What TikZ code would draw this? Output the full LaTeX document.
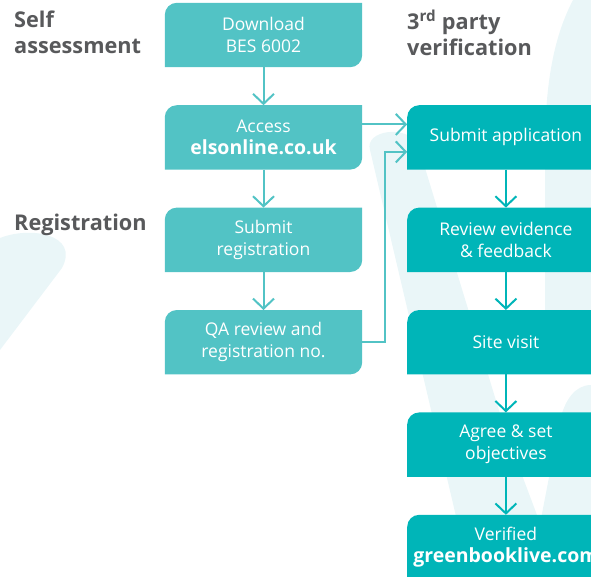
\documentclass[tikz,border=0pt]{standalone}
\usepackage{fontspec}
\setmainfont{Open Sans}
\usetikzlibrary{positioning,arrows.meta,backgrounds}

\definecolor{teallight}{HTML}{52C3C5}
\definecolor{tealdark}{HTML}{00B5B8}
\definecolor{headgray}{HTML}{58595B}
\definecolor{swoosh}{HTML}{EAF6F8}

\newcommand{\weblink}[1]{{\fontsize{19.5}{22}\selectfont\bfseries #1}}

\tikzset{
  stepbox/.style={minimum width=197pt,minimum height=64pt,inner sep=0pt,
    align=center,text=white,font=\fontsize{17.5}{22}\selectfont},
  heading/.style={anchor=north west,inner sep=0pt,align=left,text=headgray,
    font=\fontsize{21.7}{26}\selectfont\bfseries},
  flow/.style={line width=2pt,-{Straight Barb[length=10pt,width=21pt]}},
}

\begin{document}
\begin{tikzpicture}[x=1pt,y=1pt,node distance=38pt]
\useasboundingbox (0,0) rectangle (591,-576);
\clip (0,0) rectangle (591,-576);

% Headings
\node[heading] (selfh) at (14,-10.5) {Self\\assessment};
\node[heading,anchor=base west] (regh) at (14,-230) {Registration};
\node[heading] (thirdh) at (407,-10) {3\textsuperscript{rd} party\\verification};

% Self assessment and registration
\node[stepbox] (dl) at (263.5,-35) {Download\\BES 6002};
\node[stepbox,below=of dl] (acc) {Access\\\weblink{elsonline.co.uk}};
\node[stepbox,below=of acc] (sreg) {Submit\\registration};
\node[stepbox,below=of sreg] (qa) {QA review and\\registration no.};

% 3rd party verification
\node[stepbox,right=45pt of acc] (sapp) {Submit application};
\node[stepbox,below=of sapp] (rev) {Review evidence\\\& feedback};
\node[stepbox,below=of rev] (site) {Site visit};
\node[stepbox,below=of site] (agree) {Agree \& set\\objectives};
\node[stepbox,below=of agree] (ver) {Verified\\\weblink{greenbooklive.com}};

% Swooshes and box fills
\begin{scope}[on background layer]
\fill[swoosh] (0,-238) .. controls (30,-226) and (80,-234) .. (62,-268) -- (0,-350) -- cycle;
\fill[swoosh] (370,-150) .. controls (364,-130) and (408,-124) .. (418,-145)
  -- (505,-430) -- (560,-576) -- (470,-576) -- cycle;
\fill[swoosh] (591,0) -- (573,0) .. controls (552,-40) and (545,-90) .. (545,-150)
  -- (545,-330) -- (591,-345) -- cycle;
\fill[swoosh] (591,-385) .. controls (575,-385) and (565,-400) .. (560,-420)
  -- (530,-576) -- (591,-576) -- cycle;
\foreach \n/\c in {dl/teallight,acc/teallight,sreg/teallight,qa/teallight,
    sapp/tealdark,rev/tealdark,site/tealdark,agree/tealdark,ver/tealdark}
  \fill[\c] (\n.south west) -- ([yshift=-12pt]\n.north west)
    arc[start angle=180,end angle=90,radius=12pt] -- (\n.north east)
    -- ([yshift=12pt]\n.south east)
    arc[start angle=0,end angle=-90,radius=12pt] -- cycle;
\end{scope}

% Arrows
\draw[flow,teallight] (dl) -- (acc);
\draw[flow,teallight] (acc) -- (sreg);
\draw[flow,teallight] (sreg) -- (qa);
\draw[flow,teallight] ([yshift=13pt]acc.east) -- ([yshift=13pt]sapp.west);
\draw[flow,teallight] (qa.east) -- ++(23,0) |- ([yshift=-14.5pt]sapp.west);
\draw[flow,tealdark] (sapp) -- (rev);
\draw[flow,tealdark] (rev) -- (site);
\draw[flow,tealdark] (site) -- (agree);
\draw[flow,tealdark] (agree) -- (ver);

\end{tikzpicture}
\end{document}
